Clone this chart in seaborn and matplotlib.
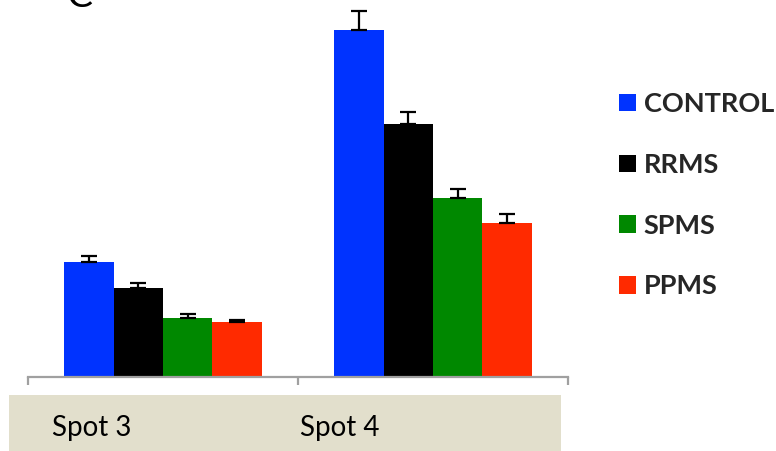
import matplotlib
matplotlib.use("Agg")
import matplotlib.pyplot as plt
from matplotlib.patches import Rectangle
import pandas as pd
import seaborn as sns

# Relative spot intensities per patient group (mean and upper error)
spots = ["Spot 3", "Spot 4"]
groups = ["CONTROL", "RRMS", "SPMS", "PPMS"]
control = [1.15, 3.47]
rrms = [0.895, 2.53]
spms = [0.59, 1.785]
ppms = [0.55, 1.54]
control_err = [0.065, 0.19]
rrms_err = [0.045, 0.12]
spms_err = [0.04, 0.09]
ppms_err = [0.025, 0.085]

colors = ["#0033FF", "#000000", "#008800", "#FF2A00"]

values = {"CONTROL": control, "RRMS": rrms, "SPMS": spms, "PPMS": ppms}
errors = {"CONTROL": control_err, "RRMS": rrms_err, "SPMS": spms_err, "PPMS": ppms_err}

rows = []
for g in groups:
    for s, v in zip(spots, values[g]):
        rows.append({"spot": s, "group": g, "value": v})
df = pd.DataFrame(rows)

sns.set_style("white")
plt.rcParams["font.family"] = ["Lato", "DejaVu Sans"]

W, H = 776, 451
fig = plt.figure(figsize=(W / 100, H / 100), dpi=100)

# Beige band behind the category labels
fig.patches.append(Rectangle((9 / W, 0), (561 - 9) / W, (H - 395) / H,
                             transform=fig.transFigure, facecolor="#E2DFCC",
                             edgecolor="none", zorder=0))

ax = fig.add_axes([28 / W, 74 / H, 540 / W, 377 / H])
ax.set_facecolor("none")
sns.barplot(data=df, x="spot", y="value", hue="group", hue_order=groups,
            order=spots, palette=colors, width=0.73, saturation=1,
            errorbar=None, legend=False, ax=ax, edgecolor="none")

# Upward-only error bars on each bar
for container, g in zip(ax.containers, groups):
    for bar, err in zip(container, errors[g]):
        x = bar.get_x() + bar.get_width() / 2
        top = bar.get_height()
        ax.errorbar(x, top, yerr=[[0], [err]], fmt="none", ecolor="black",
                    elinewidth=1.6, capsize=5.5, capthick=1.6, zorder=1)

ax.set_xlim(-0.5, 1.5)
ax.set_ylim(0, 3.77)
for side in ["top", "right", "left"]:
    ax.spines[side].set_visible(False)
ax.spines["bottom"].set_color("#A0A0A0")
ax.spines["bottom"].set_linewidth(1.6)
ax.set_xticks([-0.5, 0.5, 1.5])
ax.set_xticklabels([])
ax.tick_params(axis="x", direction="out", length=6, width=1.6,
               color="#A0A0A0", bottom=True)
ax.set_yticks([])
ax.set_xlabel("")
ax.set_ylabel("")

# Category labels inside the band
for s, xpix in zip(spots, [52, 300]):
    fig.text(xpix / W, 1 - 428 / H, s, ha="left", va="center",
             fontsize=20, color="black")

# Panel letter, partly above the top edge
fig.text(79 / W, 1 - 7 / H, "C", ha="center", va="baseline",
         fontsize=28, color="black")

leg = fig.legend(handles=list(ax.containers), labels=groups,
                 loc="upper left", bbox_to_anchor=(619 / W, 1 - 92 / H),
                 frameon=False, prop={"weight": "bold", "size": 19.5},
                 handlelength=0.62, handleheight=0.62, handletextpad=0.3,
                 labelspacing=1.36, borderpad=0, borderaxespad=0)

fig.savefig("out.png", dpi=100)
